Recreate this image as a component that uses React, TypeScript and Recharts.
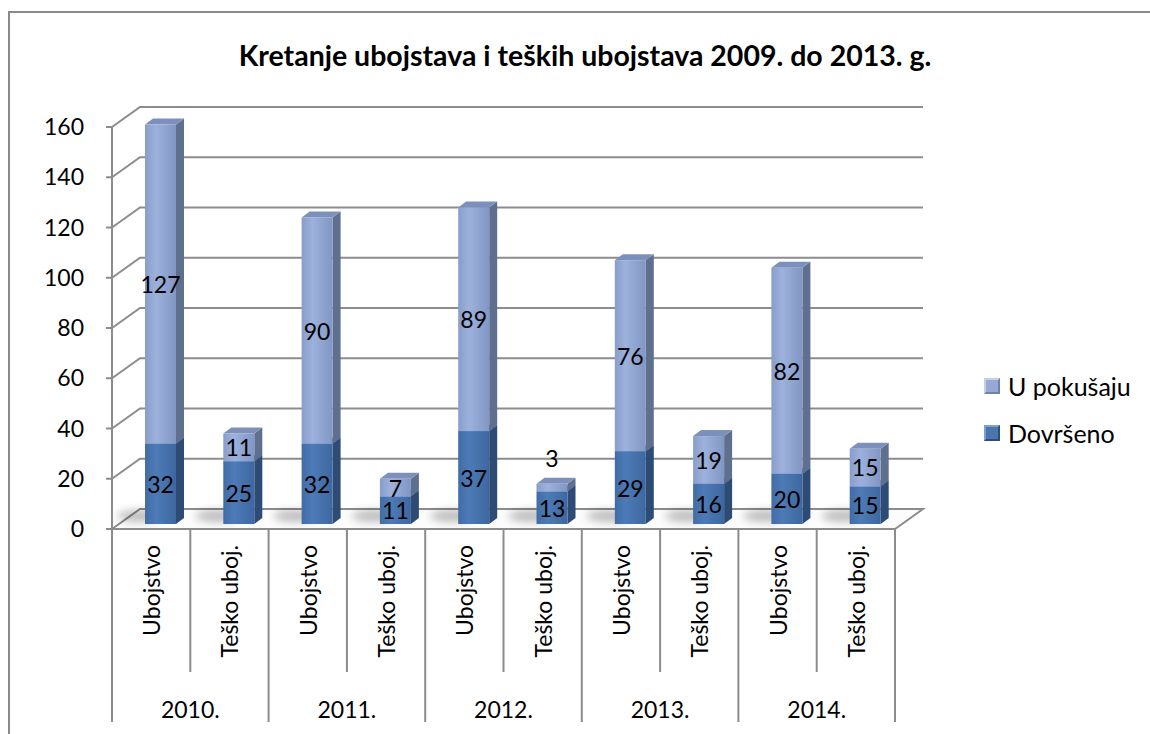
import { BarChart, Bar, XAxis, YAxis, CartesianGrid, Legend, LabelList } from 'recharts';

const years = ['2010.', '2011.', '2012.', '2013.', '2014.'];
const types = ['Ubojstvo', 'Teško uboj.'];
const dovrseno = [32, 25, 32, 11, 37, 13, 29, 16, 20, 15];
const uPokusaju = [127, 11, 90, 7, 89, 3, 76, 19, 82, 15];
const yTicks = [0, 20, 40, 60, 80, 100, 120, 140, 160];

const data = dovrseno.map((d, i) => ({
  cat: types[i % 2],
  year: years[Math.floor(i / 2)],
  dov: d,
  pok: uPokusaju[i],
}));

const W = 1150;
const H = 734;
const LEFT = 112;
const RIGHT = 895;
const TOP = 127;
const BOTTOM = 529;
const DEPTH_X = 28;
const DEPTH_Y = 20;
const BAR_DX = 9;
const BAR_DY = -5;
const SIDE_X = 8;
const SIDE_Y = 6;
const BAND = (RIGHT - LEFT) / data.length;
const FONT = 'Lato, "Open Sans", sans-serif';
const GRID = '#8c8c8c';

function makeBox(front: string, side: string, top: string, shadow: boolean) {
  return (props: any) => {
    const { x, y, width, height } = props;
    if (!height || height <= 0) return <g />;
    const X = x + BAR_DX;
    const Y = y + BAR_DY;
    const w = width;
    const h = height;
    return (
      <g>
        {shadow && (
          <ellipse cx={X - 6} cy={Y + h - 8} rx={22} ry={6} fill="#000" opacity={0.25} filter="url(#soft)" />
        )}
        <polygon
          points={`${X + w},${Y} ${X + w + SIDE_X},${Y - SIDE_Y} ${X + w + SIDE_X},${Y + h - SIDE_Y} ${X + w},${Y + h}`}
          fill={side}
        />
        <polygon
          points={`${X},${Y} ${X + SIDE_X},${Y - SIDE_Y} ${X + w + SIDE_X},${Y - SIDE_Y} ${X + w},${Y}`}
          fill={top}
        />
        <rect x={X} y={Y} width={w} height={h} fill={front} />
      </g>
    );
  };
}

const renderLabel = (props: any) => {
  const vb = props.viewBox || props;
  const { x, y, width, height } = vb;
  // very thin segments get their label lifted above the bar, like the original
  const cy = height < 12 ? y + BAR_DY - 26 : y + height / 2 + BAR_DY;
  return (
    <text
      x={x + width / 2 + BAR_DX}
      y={cy}
      textAnchor="middle"
      dominantBaseline="central"
      fontSize={23}
      fontFamily={FONT}
      fill="#000"
    >
      {props.value}
    </text>
  );
};

const renderGridLine = (p: any) => {
  const { x1, y1, x2 } = p;
  if (Math.abs(y1 - BOTTOM) < 1.5) {
    return (
      <polygon
        key={p.key}
        points={`${x1},${y1} ${x1 + DEPTH_X},${y1 - DEPTH_Y} ${x2 + DEPTH_X},${y1 - DEPTH_Y} ${x2},${y1}`}
        fill="#fcfcfc"
        stroke={GRID}
        strokeWidth={2}
      />
    );
  }
  return (
    <path
      key={p.key}
      d={`M${x1},${y1} L${x1 + DEPTH_X},${y1 - DEPTH_Y} L${x2 + DEPTH_X},${y1 - DEPTH_Y}`}
      fill="none"
      stroke={GRID}
      strokeWidth={2}
    />
  );
};

const CategoryTick = (props: any) => {
  const { x, index, payload } = props;
  const last = index === data.length - 1;
  return (
    <g>
      <line x1={x - BAND / 2} y1={BOTTOM} x2={x - BAND / 2} y2={index % 2 === 0 ? 722 : 672} stroke={GRID} strokeWidth={2} />
      {last && <line x1={x + BAND / 2} y1={BOTTOM} x2={x + BAND / 2} y2={722} stroke={GRID} strokeWidth={2} />}
      <text
        x={x}
        y={545}
        transform={`rotate(-90, ${x}, 545)`}
        textAnchor="end"
        dominantBaseline="central"
        fontSize={23}
        fontFamily={FONT}
        fill="#000"
      >
        {payload.value}
      </text>
      {index % 2 === 0 && (
        <text x={x + BAND / 2} y={709} textAnchor="middle" dominantBaseline="central" fontSize={23} fontFamily={FONT} fill="#000">
          {data[index].year}
        </text>
      )}
    </g>
  );
};

const legendItems = [
  { name: 'U pokušaju', color: '#95a9d3', light: '#c3d0ea', dark: '#6f82ad' },
  { name: 'Dovršeno', color: '#4a76b0', light: '#7ea0cf', dark: '#2e4e7a' },
];

const renderLegend = () => (
  <div style={{ fontFamily: FONT, fontSize: 25, color: '#000' }}>
    {legendItems.map((it) => (
      <div key={it.name} style={{ display: 'flex', alignItems: 'center', height: 47 }}>
        <span
          style={{
            display: 'inline-block',
            width: 12,
            height: 12,
            background: it.color,
            borderTop: `2px solid ${it.light}`,
            borderLeft: `2px solid ${it.light}`,
            borderBottom: `2px solid ${it.dark}`,
            borderRight: `2px solid ${it.dark}`,
            marginRight: 8,
          }}
        />
        <span>{it.name}</span>
      </div>
    ))}
  </div>
);

export default function App() {
  return (
    <div style={{ position: 'absolute', left: 0, top: 0, width: W, height: H, overflow: 'hidden', background: '#fff' }}>
      <svg width={0} height={0} style={{ position: 'absolute' }}>
        <defs>
          <linearGradient id="pokFront" x1="0" y1="0" x2="1" y2="0">
            <stop offset="0%" stopColor="#889dca" />
            <stop offset="35%" stopColor="#9cb1dc" />
            <stop offset="100%" stopColor="#8196c3" />
          </linearGradient>
          <linearGradient id="dovFront" x1="0" y1="0" x2="1" y2="0">
            <stop offset="0%" stopColor="#416ca6" />
            <stop offset="35%" stopColor="#4d7bb7" />
            <stop offset="100%" stopColor="#3e679f" />
          </linearGradient>
          <filter id="soft" x="-50%" y="-100%" width="200%" height="300%">
            <feGaussianBlur stdDeviation="4" />
          </filter>
        </defs>
      </svg>
      <div
        style={{
          position: 'absolute',
          left: 8,
          top: 11,
          width: 1200,
          height: 800,
          borderLeft: '2px solid #8a8a8a',
          borderTop: '2px solid #8a8a8a',
        }}
      />
      <div
        style={{
          position: 'absolute',
          left: 0,
          top: 38,
          width: 1170,
          textAlign: 'center',
          fontFamily: FONT,
          fontWeight: 'bold',
          fontSize: 28.5,
          color: '#000',
        }}
      >
        Kretanje ubojstava i teških ubojstava 2009. do 2013. g.
      </div>
      <div style={{ position: 'absolute', left: 0, top: 0 }}>
        <BarChart
          width={W}
          height={H}
          data={data}
          margin={{ top: TOP, right: W - RIGHT, bottom: 10, left: LEFT - 60 }}
          barSize={31}
        >
          <CartesianGrid vertical={false} horizontal={renderGridLine} />
          <XAxis
            dataKey="cat"
            height={H - 10 - BOTTOM}
            interval={0}
            axisLine={{ stroke: GRID, strokeWidth: 2 }}
            tickLine={false}
            tick={<CategoryTick />}
          />
          <YAxis
            width={60}
            domain={[0, 160]}
            ticks={yTicks}
            interval={0}
            axisLine={{ stroke: GRID, strokeWidth: 2 }}
            tickLine={{ stroke: GRID, strokeWidth: 2 }}
            tickSize={6}
            tickMargin={22}
            tick={{ fill: '#000', fontSize: 23, fontFamily: FONT }}
          />
          <Legend
            layout="horizontal"
            verticalAlign="middle"
            align="center"
            wrapperStyle={{ left: 984, right: 'auto', top: 362, width: 166 }}
            content={renderLegend}
          />
          <Bar
            dataKey="dov"
            name="Dovršeno"
            stackId="a"
            isAnimationActive={false}
            shape={makeBox('url(#dovFront)', '#2d4b75', '#3a5f94', true)}
          >
            <LabelList dataKey="dov" content={renderLabel} />
          </Bar>
          <Bar
            dataKey="pok"
            name="U pokušaju"
            stackId="a"
            isAnimationActive={false}
            shape={makeBox('url(#pokFront)', '#5f6f8e', '#7d90bb', false)}
          >
            <LabelList dataKey="pok" content={renderLabel} />
          </Bar>
        </BarChart>
      </div>
    </div>
  );
}
